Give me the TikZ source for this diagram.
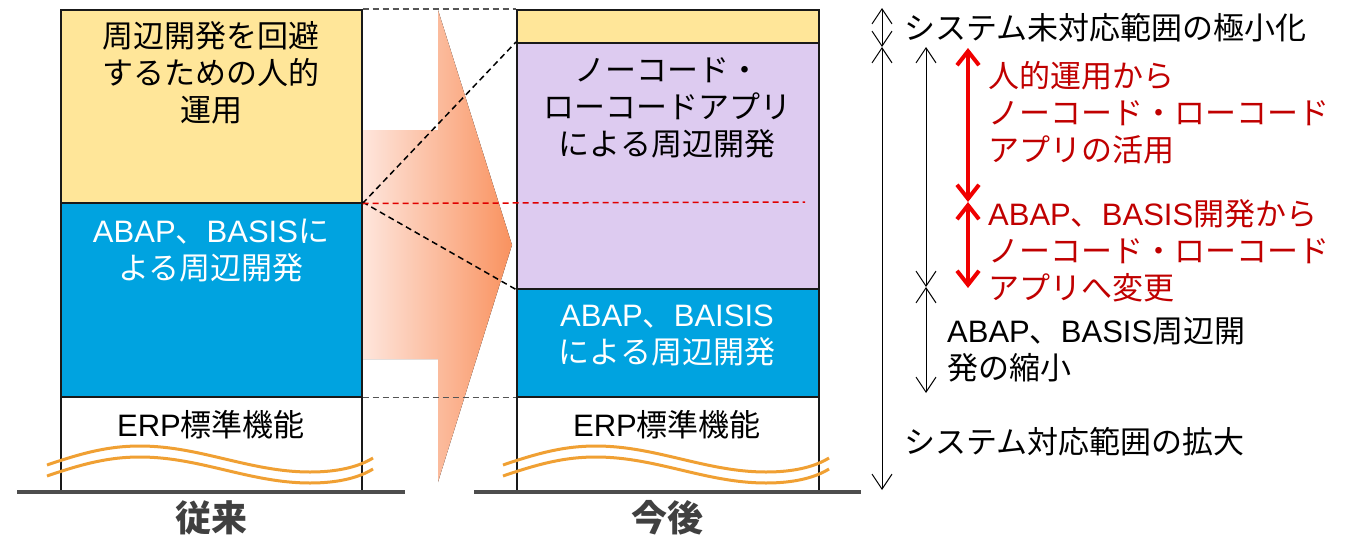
\documentclass[tikz,border=0pt]{standalone}
\usepackage{fontspec}
\setmainfont{Noto Sans CJK JP}
\newfontfamily\lat{Liberation Sans}
\usetikzlibrary{arrows.meta}
\definecolor{ylw}{HTML}{FFE699}
\definecolor{blu}{HTML}{00A3E0}
\definecolor{pur}{HTML}{DDCBF0}
\definecolor{wav}{HTML}{F0A033}
\definecolor{gnd}{HTML}{4D4D4D}
\definecolor{arrL}{HTML}{FEE6DD}
\definecolor{arrR}{HTML}{F9925F}
\definecolor{rtxt}{HTML}{C00000}
\definecolor{rarr}{HTML}{F00000}
\definecolor{lbl}{HTML}{404040}
\definecolor{gdsh}{HTML}{555555}
\definecolor{rdsh}{HTML}{E00000}
\begin{document}
\begin{tikzpicture}[x=1pt,y=-1pt,
  blk/.style={draw=black!90,line width=1.5pt,inner sep=0pt,anchor=north west},
  txt/.style={font=\fontsize{31}{37}\selectfont,align=center,inner sep=0pt},
  ltxt/.style={font=\fontsize{31}{37}\selectfont,align=left,inner sep=0pt,anchor=west},
  bigl/.style={font=\fontsize{36}{40}\selectfont\bfseries,text=lbl,inner sep=0pt},
  gdash/.style={draw=gdsh,line width=1.5pt,dash pattern=on 6pt off 4pt},
  kdash/.style={draw=black,line width=1.5pt,dash pattern=on 6pt off 4pt},
  rdash/.style={draw=rdsh,line width=1.5pt,dash pattern=on 6pt off 4pt},
  wave/.style={draw=wav,line width=3pt},
  gline/.style={draw=gnd,line width=3.5pt},
  barb/.style={line width=1pt,{Straight Barb[length=15pt,width=20pt]}-{Straight Barb[length=15pt,width=20pt]}},
  rbarb/.style={draw=rarr,line width=4pt,{Straight Barb[length=14pt,width=22pt]}-{Straight Barb[length=14pt,width=22pt]}}
]
\useasboundingbox (0,0) rectangle (1352,536);

% big gradient arrow
\fill[left color=arrL,right color=arrR] (362,130) -- (438,130) -- (438,10) -- (512,245) -- (438,482) -- (438,359) -- (362,359) -- cycle;

% left column
\node[blk,fill=ylw,minimum width=301pt,minimum height=193pt] (ly) at (60,9) {};
\node[blk,fill=blu,minimum width=301pt,minimum height=194pt] (lb) at (60,202) {};
\node[blk,fill=white,minimum width=301pt,minimum height=96pt] (lw) at (60,396) {};

% right column
\node[blk,fill=ylw,minimum width=302pt,minimum height=33pt] (ry) at (516,9) {};
\node[blk,fill=pur,minimum width=302pt,minimum height=246pt] (rp) at (516,42) {};
\node[blk,fill=blu,minimum width=302pt,minimum height=108pt] (rb) at (516,288) {};
\node[blk,fill=white,minimum width=302pt,minimum height=96pt] (rw) at (516,396) {};

% dashed connectors
\coordinate (rdend) at (805,202);
\draw[gdash] (ly.north east) -- (ry.north west);
\draw[kdash] (ly.south east) -- (rp.north west);
\draw[kdash] (lb.north east) -- (rp.south west);
\draw[rdash] (ly.south east) -- (rdend);
\draw[gdash] (lb.south east) -- (rb.south west);

% waves
\draw[wave] (47,465) .. controls (85,452) and (110,446) .. (140,446) .. controls (200,446) and (250,472) .. (310,472) .. controls (340,472) and (360,466) .. (373,458);
\draw[wave] (47,476) .. controls (85,463) and (110,457) .. (140,457) .. controls (200,457) and (250,483) .. (310,483) .. controls (340,483) and (360,477) .. (373,469);
\draw[wave] (503,465) .. controls (541,452) and (566,446) .. (596,446) .. controls (656,446) and (706,472) .. (766,472) .. controls (796,472) and (816,466) .. (829,458);
\draw[wave] (503,476) .. controls (541,463) and (566,457) .. (596,457) .. controls (656,457) and (706,483) .. (766,483) .. controls (796,483) and (816,477) .. (829,469);

% ground lines
\coordinate (gl1) at (17,492); \coordinate (gl2) at (405,492);
\coordinate (gr1) at (474,492); \coordinate (gr2) at (861,492);
\draw[gline] (gl1) -- (gl2);
\draw[gline] (gr1) -- (gr2);

% column texts
\node[txt] (t1) at (211,73) {周辺開発を回避\\するための人的\\運用};
\node[txt,text=white] (t2) at (211,251) {{\lat ABAP}、{\lat BASIS}に\\よる周辺開発};
\node[txt] (t3) at (211,425) {{\lat ERP}標準機能};
\node[txt] (t4) at (667,108) {ノーコード・\\ローコードアプリ\\による周辺開発};
\node[txt,text=white] (t5) at (667,336) {{\lat ABAP}、{\lat BAISIS}\\による周辺開発};
\node[txt] (t6) at (667,425) {{\lat ERP}標準機能};
\node[bigl] (l1) at (211,518) {従来};
\node[bigl] (l2) at (667,518) {今後};

% annotation arrows
\coordinate (a0) at (882,8); \coordinate (a1) at (882,47); \coordinate (a2) at (882,490);
\coordinate (b0) at (926,47); \coordinate (b1) at (926,287); \coordinate (b2) at (926,393);
\coordinate (c0) at (968,48); \coordinate (c1) at (968,202); \coordinate (c2) at (968,288);
\draw[barb] (a0) -- (a1);
\draw[barb] (a1) -- (a2);
\draw[barb] (b0) -- (b1);
\draw[barb] (b1) -- (b2);
\draw[rbarb] (c0) -- (c1);
\draw[rbarb] (c1) -- (c2);

% annotation texts
\node[ltxt] (n1) at (904,28) {システム未対応範囲の極小化};
\node[ltxt,text=rtxt] (n2) at (988,113) {人的運用から\\ノーコード・ローコード\\アプリの活用};
\node[ltxt,text=rtxt] (n3) at (988,251) {{\lat ABAP}、{\lat BASIS}開発から\\ノーコード・ローコード\\アプリへ変更};
\node[ltxt] (n4) at (947,350) {{\lat ABAP}、{\lat BASIS}周辺開\\発の縮小};
\node[ltxt] (n5) at (904,442) {システム対応範囲の拡大};
\end{tikzpicture}
\end{document}
